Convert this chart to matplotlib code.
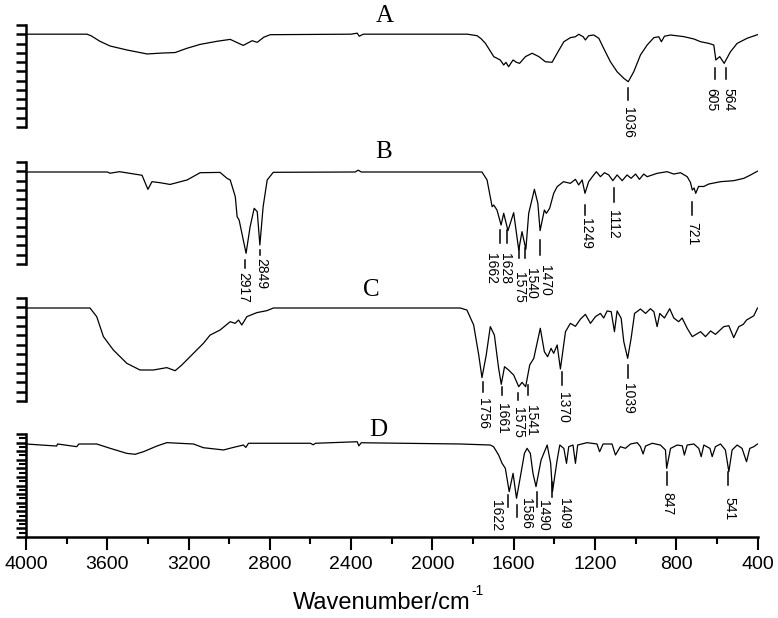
import numpy as np
import matplotlib
matplotlib.use("Agg")
import matplotlib.pyplot as plt

# ---------------- data (wavenumber cm-1, relative transmittance %) ----------------
A_points = [(4000, 91.0), (3700, 91.0), (3680, 89.5), (3636, 84.0), (3586, 79.4), (3503, 75.5),
            (3404, 71.6), (3330, 72.5), (3266, 73.0), (3209, 77.1), (3143, 81.0), (3061, 84.0),
            (2995, 85.9), (2931, 80.0), (2887, 84.6), (2862, 83.0), (2830, 88.0),
            (2798, 90.5), (2400, 91.0), (2370, 92.0), (2360, 89.0), (2340, 91.0), (1828, 91.0),
            (1780, 89.5), (1760, 86.5), (1739, 82.0), (1698, 69.0), (1666, 65.7), (1649, 60.8),
            (1638, 63.4), (1625, 59.1), (1603, 65.7), (1587, 63.5), (1571, 62.4), (1542, 69.0),
            (1509, 72.3), (1476, 69.0), (1444, 64.0), (1411, 63.4), (1386, 72.3), (1353, 83.6),
            (1321, 87.6), (1296, 88.5), (1280, 90.9), (1258, 88.5), (1247, 85.3), (1231, 89.5),
            (1206, 90.2), (1181, 87.0), (1157, 77.1), (1124, 64.0), (1091, 54.2), (1058, 47.7),
            (1036, 44.4), (1009, 54.2), (976, 70.6), (943, 80.4), (910, 87.6), (886, 88.5),
            (873, 83.6), (858, 89.0), (828, 90.2), (763, 88.6), (713, 86.3), (680, 83.6),
            (640, 82.0), (615, 80.4), (605, 65.7), (586, 69.0), (564, 62.4), (533, 73.8),
            (500, 82.0), (451, 87.0), (400, 90.5)]

B_points = [(4000, 90.2), (3600, 90.2), (3586, 89.0), (3540, 90.5), (3429, 87.0), (3400, 73.2),
            (3380, 80.7), (3340, 79.7), (3291, 78.0), (3207, 82.4), (3143, 89.5), (3045, 89.8),
            (3010, 83.9), (2995, 82.4), (2970, 66.0), (2961, 46.4), (2951, 43.0), (2917, 10.5),
            (2897, 36.6), (2877, 54.6), (2862, 51.3), (2849, 18.6), (2833, 56.2), (2813, 82.4),
            (2783, 89.9), (2380, 90.2), (2365, 92.0), (2350, 90.2), (1756, 90.2), (1731, 82.4),
            (1706, 56.2), (1698, 57.8), (1682, 52.9), (1662, 38.2), (1649, 49.7), (1628, 32.7),
            (1600, 50.3), (1575, 13.7), (1559, 31.7), (1540, 14.4), (1526, 49.7), (1498, 73.2),
            (1481, 59.5), (1470, 32.7), (1449, 52.9), (1439, 49.7), (1423, 54.6), (1403, 69.3),
            (1386, 75.8), (1355, 80.7), (1321, 79.1), (1296, 83.0), (1280, 77.5), (1263, 82.4),
            (1249, 69.3), (1231, 80.7), (1206, 87.3), (1193, 90.5), (1173, 85.6), (1153, 89.5),
            (1132, 87.3), (1112, 81.7), (1091, 87.3), (1066, 81.7), (1042, 87.3), (1022, 84.0),
            (1000, 88.2), (981, 83.0), (960, 88.2), (943, 85.6), (894, 88.9), (845, 90.5),
            (812, 88.2), (779, 89.5), (746, 85.6), (730, 80.0), (721, 72.5), (712, 74.5),
            (704, 69.3), (690, 76.0), (664, 76.0), (640, 78.4), (582, 80.7), (517, 81.7),
            (467, 84.0), (434, 87.3), (400, 91.0)]

C_points = [(4000, 90.3), (3685, 90.3), (3652, 81.9), (3619, 62.5), (3570, 49.5), (3504, 36.6),
            (3439, 30.1), (3373, 30.1), (3307, 32.4), (3266, 29.4), (3233, 35.0), (3176, 46.3),
            (3127, 56.0), (3094, 64.0), (3045, 68.9), (2995, 77.0), (2971, 75.4), (2954, 78.6),
            (2938, 73.8), (2913, 81.9), (2864, 85.8), (2815, 87.7), (2782, 90.3), (1863, 90.3),
            (1830, 88.3), (1797, 73.8), (1772, 44.7), (1756, 22.7), (1735, 44.7), (1715, 72.2),
            (1695, 64.1), (1674, 31.7), (1661, 16.2), (1645, 33.3), (1625, 30.1), (1600, 25.2),
            (1575, 13.9), (1559, 18.1), (1541, 13.9), (1521, 35.0), (1501, 41.4), (1469, 70.6),
            (1449, 47.9), (1433, 43.0), (1416, 51.1), (1403, 46.3), (1386, 54.4), (1370, 31.1),
            (1345, 67.3), (1321, 75.4), (1296, 72.5), (1271, 79.6), (1247, 84.1), (1222, 75.4),
            (1197, 82.0), (1173, 85.0), (1157, 80.6), (1140, 87.4), (1120, 86.7), (1104, 67.3),
            (1091, 87.4), (1071, 80.3), (1058, 57.6), (1039, 41.4), (1022, 60.8), (1005, 85.0),
            (976, 89.3), (951, 85.0), (927, 89.6), (910, 86.7), (894, 72.2), (881, 85.0),
            (858, 80.6), (832, 89.6), (812, 80.6), (788, 77.0), (771, 80.6), (746, 70.6),
            (721, 62.5), (680, 67.3), (656, 62.5), (631, 68.0), (607, 64.7), (566, 72.2),
            (541, 73.1), (517, 61.5), (492, 72.2), (470, 74.4), (454, 78.6), (434, 80.9),
            (418, 82.8), (400, 90.3)]

D_points = [(4000, 90.3), (3849, 88.3), (3845, 90.3), (3750, 87.7), (3740, 90.3), (3652, 90.3),
            (3586, 86.1), (3504, 81.2), (3463, 80.3), (3422, 82.8), (3356, 88.3), (3307, 91.6),
            (3176, 90.3), (3127, 86.7), (3028, 84.5), (2979, 87.0), (2930, 89.3), (2918, 87.0),
            (2905, 91.0), (2600, 91.0), (2587, 89.5), (2575, 91.0), (2370, 92.5), (2362, 88.5),
            (2350, 91.5), (1863, 90.3), (1715, 89.3), (1699, 87.7), (1674, 79.6), (1657, 71.5),
            (1641, 66.7), (1622, 44.0), (1603, 61.8), (1586, 37.6), (1567, 58.6), (1547, 81.2),
            (1534, 86.1), (1518, 81.2), (1505, 61.8), (1490, 48.9), (1465, 74.8), (1435, 89.3),
            (1418, 71.5), (1409, 44.0), (1386, 74.8), (1373, 89.3), (1353, 86.0), (1340, 71.5),
            (1329, 87.7), (1308, 89.3), (1296, 71.5), (1285, 89.3), (1239, 91.6), (1190, 90.3),
            (1177, 82.8), (1160, 90.3), (1116, 90.3), (1099, 79.6), (1075, 87.7), (1050, 86.1),
            (1025, 90.3), (992, 91.6), (976, 87.7), (963, 80.6), (951, 88.3), (918, 91.0),
            (878, 89.3), (853, 84.5), (847, 66.7), (828, 86.0), (795, 89.3), (770, 88.5),
            (760, 79.6), (746, 89.3), (713, 90.3), (689, 86.0), (677, 78.0), (664, 89.3),
            (634, 86.0), (623, 78.0), (607, 87.7), (582, 90.3), (558, 84.5), (541, 63.4),
            (525, 84.5), (500, 89.3), (476, 86.0), (454, 73.1), (438, 86.0), (418, 87.7),
            (400, 90.3)]

panel_names = ["A", "B", "C", "D"]

# peak labels: (text, tick_wn, tick_top, tick_bottom, text_wn, text_top)
labels_A = [("1036", 1035, 38.2, 26.5, 1035, 19.6),
            ("605", 607, 57.8, 47.0, 626, 38.2),
            ("564", 557, 57.8, 47.0, 543, 38.2)]
labels_B = [("2917", 2921, 3.9, -3.9, 2929, -7.8),
            ("2849", 2849, 13.7, 8.8, 2843, 5.9),
            ("1662", 1665, 33.3, 20.6, 1710, 10.8),
            ("1628", 1635, 33.3, 20.6, 1641, 10.8),
            ("1575", 1572, 15.7, 5.9, 1575, -7.8),
            ("1540", 1543, 15.7, 5.9, 1513, -3.9),
            ("1470", 1469, 23.5, 8.8, 1444, -1.0),
            ("1249", 1247, 57.8, 48.0, 1242, 45.0),
            ("1112", 1108, 74.5, 60.8, 1111, 52.9),
            ("721", 720, 60.8, 48.0, 720, 41.2)]
labels_C = [("1756", 1752, 18.4, 8.7, 1752, 2.9),
            ("1661", 1656, 13.6, 5.8, 1656, -1.9),
            ("1575", 1577, 7.8, 1.0, 1577, -5.8),
            ("1541", 1529, 15.5, 5.8, 1513, -3.9),
            ("1370", 1360, 28.2, 15.5, 1358, 8.7),
            ("1039", 1038, 35.0, 22.3, 1038, 17.5)]
labels_D = [("1622", 1626, 40.8, 29.1, 1685, 35.9),
            ("1586", 1583, 31.1, 19.4, 1537, 37.9),
            ("1490", 1483, 43.7, 29.1, 1456, 35.9),
            ("1409", 1409, 53.4, 38.8, 1350, 37.9),
            ("847", 843, 63.1, 50.5, 843, 43.7),
            ("541", 543, 63.1, 50.5, 538, 38.8)]

x_major = [4000, 3600, 3200, 2800, 2400, 2000, 1600, 1200, 800, 400]
x_minor = [3800, 3400, 3000, 2600, 2200, 1800, 1400, 1000, 600]

# ---------------- figure ----------------
W, H = 778, 618
fig = plt.figure(figsize=(W / 100, H / 100), dpi=100)
sans = ["Liberation Sans", "DejaVu Sans"]
serif = ["Liberation Serif", "DejaVu Serif"]

# panel boxes in pixels: (top, bottom)
panel_px = [(25, 127), (162, 264), (298, 401), (434, 537)]
left_px, right_px = 26, 757.5

series = [A_points, B_points, C_points, D_points]
labels = [labels_A, labels_B, labels_C, labels_D]
name_pos = [(385, 16), (384, 152), (371, 290), (378, 430)]

axes = []
for i, (top, bot) in enumerate(panel_px):
    ax = fig.add_axes([left_px / W, 1 - bot / H, (right_px - left_px) / W, (bot - top) / H])
    axes.append(ax)
    pts = np.array(series[i], dtype=float)
    ax.plot(pts[:, 0], pts[:, 1], color="black", lw=0.9)
    ax.set_xlim(4000, 400)
    ax.set_ylim(0, 100)
    for s in ["top", "right"]:
        ax.spines[s].set_visible(False)
    ax.spines["left"].set_linewidth(1.8)
    if i < 3:
        ax.spines["bottom"].set_visible(False)
        ax.set_xticks([])
        ax.set_yticks(np.linspace(0, 100, 12))
        ax.tick_params(axis="y", direction="out", length=7, width=1.8, labelleft=False)
    else:
        ax.spines["bottom"].set_linewidth(1.8)
        ax.set_yticks(np.linspace(0, 100, 13))
        ax.set_yticks(np.linspace(0, 100, 25), minor=True)
        ax.tick_params(axis="y", which="major", direction="out", length=7, width=1.8, labelleft=False)
        ax.tick_params(axis="y", which="minor", direction="out", length=5, width=1.5, labelleft=False)
        ax.set_xticks(x_major)
        ax.set_xticks(x_minor, minor=True)
        ax.set_xticklabels([str(v) for v in x_major], fontfamily=sans, fontsize=14)
        ax.tick_params(axis="x", which="major", direction="out", length=9, width=1.5, pad=5)
        ax.tick_params(axis="x", which="minor", direction="out", length=5, width=1.5)
    ax.patch.set_alpha(0)

    for (txt, twn, ttop, tbot, xwn, ytop) in labels[i]:
        ax.plot([twn, twn], [ttop, tbot], color="black", lw=1.1, clip_on=False)
        ax.text(xwn, ytop, txt, rotation=270, ha="center", va="top",
                fontsize=10, family=sans, clip_on=False)

    nx, ny = name_pos[i]
    fig.text(nx / W, 1 - ny / H, panel_names[i], ha="center", va="center",
             fontsize=18, family=serif)

fig.text(293 / W, 1 - 603 / H, "Wavenumber/cm", ha="left", va="center",
         fontsize=17, family=sans)
fig.text(471 / W, 1 - 591 / H, "-1", ha="left", va="center",
         fontsize=10, family=sans)

fig.savefig("out.png", dpi=100, facecolor="white")
